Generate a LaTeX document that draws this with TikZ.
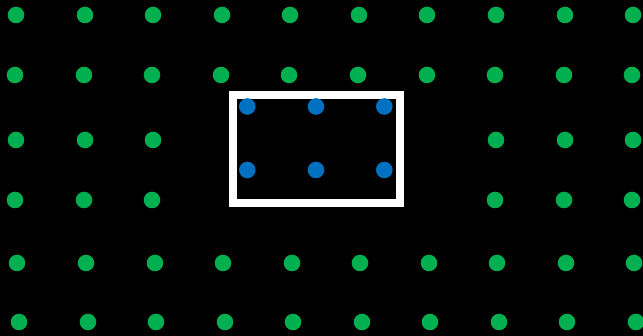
\documentclass[tikz,border=0pt]{standalone}
\definecolor{dotgreen}{HTML}{00B050}
\definecolor{dotblue}{HTML}{0070C0}
\begin{document}
\begin{tikzpicture}[x=1pt,y=-1pt,
  gdot/.style={circle,fill=dotgreen,inner sep=0pt,minimum size=16.6pt},
  bdot/.style={circle,fill=dotblue,inner sep=0pt,minimum size=16.6pt}]
\fill[black] (0,0) rectangle (643,336);
\useasboundingbox (0,0) rectangle (643,336);
\foreach \x [count=\i] in {16,85,153,222,290,359,427,496,565,633} \node[gdot] (ga\i) at (\x,15) {};
\foreach \x [count=\i] in {15,84,152,221,289,358,427,495,564,632} \node[gdot] (gb\i) at (\x,75) {};
\foreach \x [count=\i] in {16,85,153,496,565,633} \node[gdot] (gc\i) at (\x,140) {};
\foreach \x [count=\i] in {15,84,152,495,564,632} \node[gdot] (gd\i) at (\x,200) {};
\foreach \x [count=\i] in {17,86,155,223,292,360,429,497,566,634} \node[gdot] (ge\i) at (\x,263) {};
\foreach \x [count=\i] in {19,88,156,225,293,362,430,499,567,636} \node[gdot] (gf\i) at (\x,322) {};
\draw[white,line width=8pt] (232.7,95) rectangle (400,203);
\foreach \x [count=\i] in {247.3,316,384.3} {
  \node[bdot] (ba\i) at (\x,106.5) {};
  \node[bdot] (bb\i) at (\x,170) {};
}
\end{tikzpicture}
\end{document}
